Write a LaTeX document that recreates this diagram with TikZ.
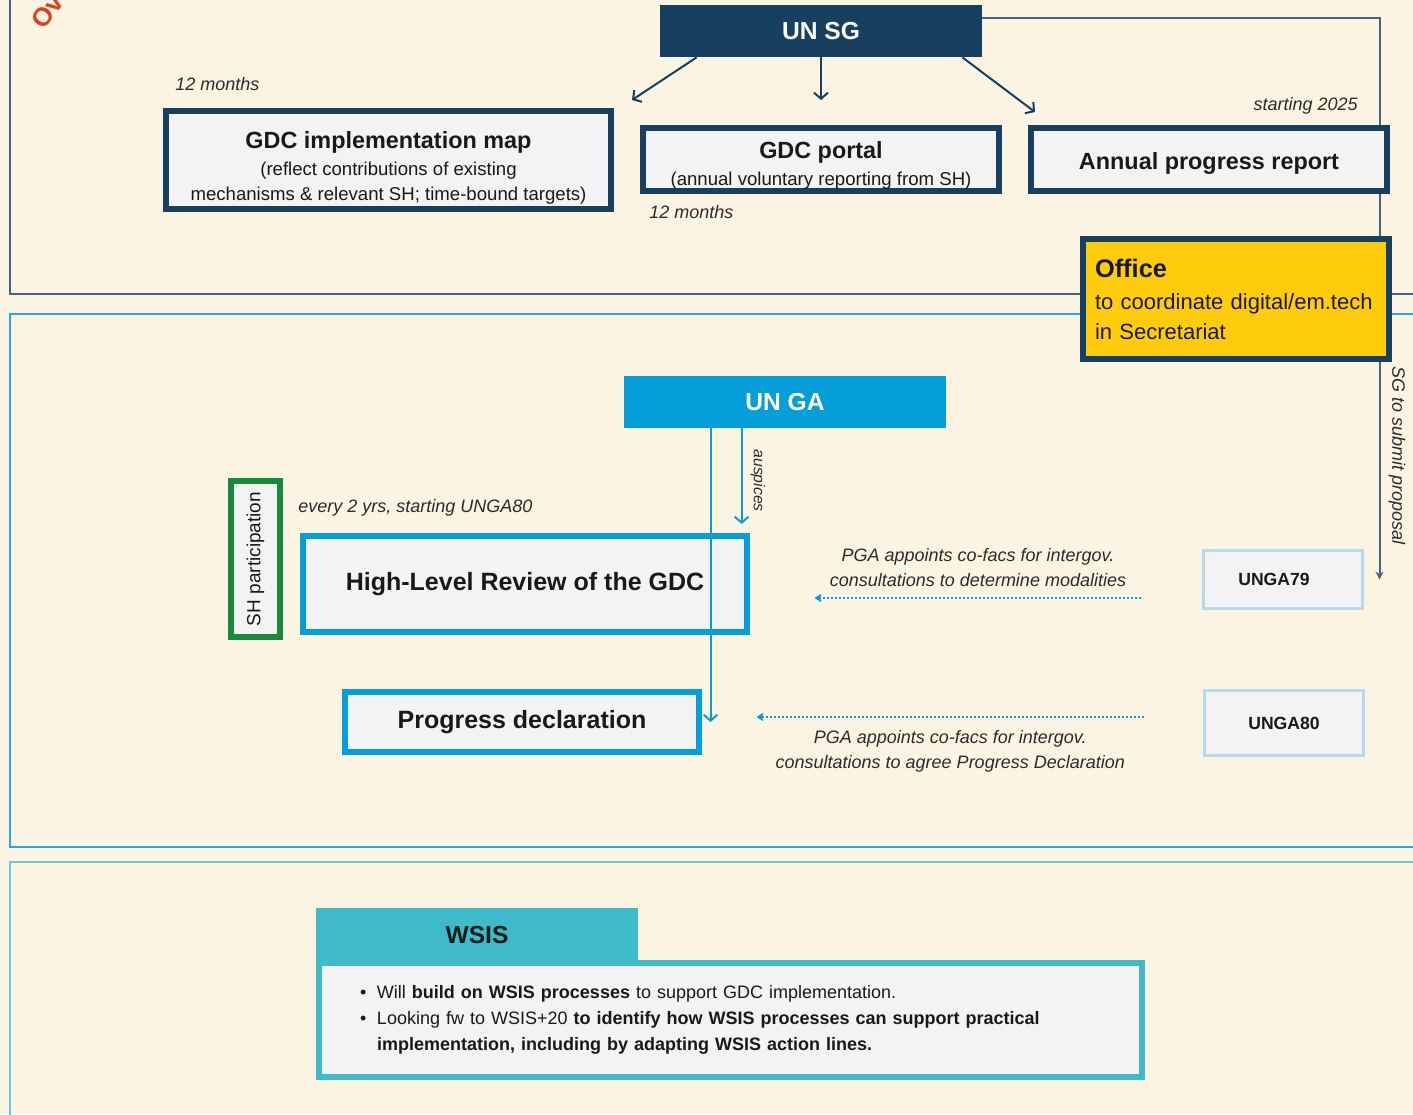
\documentclass[tikz,border=0pt]{standalone}
\usepackage{fontspec}
\setmainfont{Liberation Sans}
\usepackage{tikz}
\usetikzlibrary{arrows.meta}
\usetikzlibrary{calc}
\usetikzlibrary{backgrounds}

\definecolor{sgnavy}{HTML}{173F5F}
\definecolor{gablue}{HTML}{049FD9}
\definecolor{officeyellow}{HTML}{FFCC0D}
\definecolor{shgreen}{HTML}{178A3C}
\definecolor{boxfill}{HTML}{F3F2F4}
\definecolor{ungaline}{HTML}{B5DAEE}
\definecolor{wsisteal}{HTML}{3FBAC8}
\definecolor{cream}{HTML}{FBF4E3}
\definecolor{panelnavy}{HTML}{46647F}
\definecolor{panelblue}{HTML}{2CA6DF}
\definecolor{panelteal}{HTML}{6CC8D3}
\definecolor{labelgrey}{HTML}{2B2B2B}
\definecolor{ovred}{HTML}{D9441E}

\newcommand{\boxtitle}[2][0pt]{{\fontsize{11.7}{14}\selectfont\bfseries\rule{0pt}{#1}#2}}

\begin{document}
\begin{tikzpicture}[
    x=0.5pt, y=-0.5pt,
    header/.style={fill=#1, text=white, inner sep=0pt, minimum width=161pt, minimum height=26pt, font=\fontsize{12.3}{14}\selectfont\bfseries},
    sgbox/.style={draw=sgnavy, line width=3pt, fill=boxfill, inner sep=0pt, align=center, text=black!90},
    gabox/.style={draw=gablue, line width=3pt, fill=boxfill, inner sep=0pt, align=center, text=black!90, font=\fontsize{12.5}{15}\selectfont\bfseries},
    ungabox/.style={draw=ungaline, line width=1.5pt, fill=boxfill, inner sep=0pt, minimum width=79.5pt, text=black!90, font=\fontsize{8.8}{10}\selectfont\bfseries},
    note/.style={font=\fontsize{9}{12.5}\selectfont\itshape, text=labelgrey, align=center, inner sep=0pt},
    sgarrow/.style={draw=sgnavy, line width=1pt, -{Straight Barb[length=3pt,width=7pt]}},
    gaarrow/.style={draw=gablue, line width=1pt, -{Straight Barb[length=3pt,width=7pt]}},
    dotarrow/.style={draw=gablue, line width=1.2pt, dash pattern=on 1pt off 1pt, -{Stealth[length=4pt,width=5pt,round]}}
]

\useasboundingbox (0,0) rectangle (1413,1114);

% Panels
\begin{scope}[on background layer]
\fill[cream] (0,0) rectangle (1413,1114);
\draw[panelnavy, line width=1pt] (10,-10) rectangle (1430,294);
\draw[panelblue, line width=1pt] (10,314) rectangle (1430,847);
\draw[panelteal, line width=1pt] (10,862) rectangle (1430,1130);
\end{scope}
\node[rotate=55, text=ovred, font=\fontsize{13}{15}\selectfont\bfseries, anchor=base west, inner sep=0pt] (ov) at (44.5,31) {Ov};

% Secretary-General
\node[header=sgnavy] (sg) at (821,31) {UN SG};
\node[sgbox, minimum width=222.5pt, minimum height=49pt, font=\fontsize{9.3}{12.5}\selectfont] (map) at (388.5,160)
    {\boxtitle[16.5pt]{GDC implementation map}\\[1pt](reflect contributions of existing\\mechanisms \& relevant SH; time-bound targets)};
\node[sgbox, minimum width=178pt, minimum height=31.5pt, font=\fontsize{9.3}{12.5}\selectfont] (portal) at (821,159.5)
    {\boxtitle[14.5pt]{GDC portal}\\[1pt](annual voluntary reporting from SH)};
\node[sgbox, minimum width=178pt, minimum height=31.5pt] (report) at (1209,159.5) {\boxtitle[12pt]{Annual progress report}};
\node[sgbox, fill=officeyellow, minimum width=153pt, minimum height=60pt, text width=141pt, inner xsep=6pt, align=left, font=\fontsize{11}{15}\selectfont] (office) at (1236,299)
    {{\fontsize{12.7}{15}\selectfont\bfseries Office}\\[1pt]to coordinate digital/em.tech\\in Secretariat};

\node[note, anchor=west] (mapnote) at (175,84) {12 months};
\node[note, anchor=west] (portalnote) at (649,212) {12 months};
\node[note, anchor=east] (reportnote) at (1358,106) {starting 2025};

% General Assembly
\node[header=gablue] (ga) at (785,402) {UN GA};
\node[gabox, minimum width=222pt, minimum height=48pt] (hlr) at (525,584) {High-Level Review of the GDC};
\node[gabox, minimum width=177pt, minimum height=30pt] (decl) at (522,722) {Progress declaration};
\node[draw=shgreen, line width=3pt, fill=boxfill, rotate=90, minimum width=78pt, minimum height=24.5pt, inner sep=0pt, text=black!90, font=\fontsize{9.5}{11}\selectfont] (sh) at (255.5,559) {SH participation};
\node[ungabox, minimum height=29pt] (u79) at (1283,579.5) {UNGA79\hspace*{9pt}};
\node[ungabox, minimum height=32.5pt] (u80) at (1284,723) {UNGA80};

\node[note, anchor=west] (hlrnote) at (298,508) {every 2 yrs, starting UNGA80};

% WSIS
\node[fill=wsisteal, inner sep=0pt, minimum width=161pt, minimum height=27.5pt, text=black!90, font=\fontsize{12.3}{14}\selectfont\bfseries] (wsis) at (477,935.5) {WSIS};
\node[draw=wsisteal, line width=3pt, fill=boxfill, minimum width=411.5pt, minimum height=57pt, inner xsep=20.5pt, text width=370.5pt, align=left, text=black!90, font=\fontsize{9}{13}\selectfont] (wsisbody) at (730.5,1020)
    {\makebox[8.5pt][l]{\textbullet}Will \textbf{build on WSIS processes} to support GDC implementation.\\
     \makebox[8.5pt][l]{\textbullet}Looking fw to WSIS+20 \textbf{to identify how WSIS processes can support practical}\\
     \hspace*{8.5pt}\textbf{implementation, including by adapting WSIS action lines.}};

% Connectors
\coordinate (mapTip) at (632,100);
\coordinate (reportTip) at (1035,112);
\draw[sgarrow] ($(sg.south west)+(37,0)$) -- (mapTip);
\draw[sgarrow, shorten >=12.5pt] (sg.south) -- (portal.north);
\draw[sgarrow] ($(sg.south east)+(-20,0)$) -- (reportTip);

\begin{scope}[on background layer]
\draw[draw=panelnavy, line width=1pt, -{Stealth[length=4pt,width=4pt]}] ($(sg.north east)+(0,13)$) -| ($(u79.east)+(15.5,0)$)
    node[pos=0.89, anchor=south, rotate=-90, note, inner sep=4pt] {SG to submit proposal};
\end{scope}

\coordinate (gaL) at ($(ga.south west)+(87,0)$);
\coordinate (gaR) at ($(ga.south west)+(118,0)$);
\draw[gaarrow] (gaL) -- (gaL |- decl.east);
\draw[gaarrow, shorten >=4.5pt] (gaR) -- (gaR |- hlr.north)
    node[midway, anchor=south, rotate=-90, note, font=\fontsize{7.9}{9}\selectfont\itshape, inner sep=4pt] {auspices};

\coordinate (u79From) at ($(u79.west)+(-61,18.5)$);
\coordinate (hlrTo) at ($(hlr.east)+(65,14)$);
\coordinate (u80From) at ($(u80.west)+(-59.5,-6)$);
\coordinate (declTo) at ($(decl.east)+(55,-5)$);
\draw[dotarrow] (u79From) -- (hlrTo)
    node[midway, above, note, inner sep=5pt] {PGA appoints co-facs for intergov.\\consultations to determine modalities};
\draw[dotarrow] (u80From) -- (declTo)
    node[midway, below, note, inner sep=6pt] {PGA appoints co-facs for intergov.\\consultations to agree Progress Declaration};

\end{tikzpicture}
\end{document}
